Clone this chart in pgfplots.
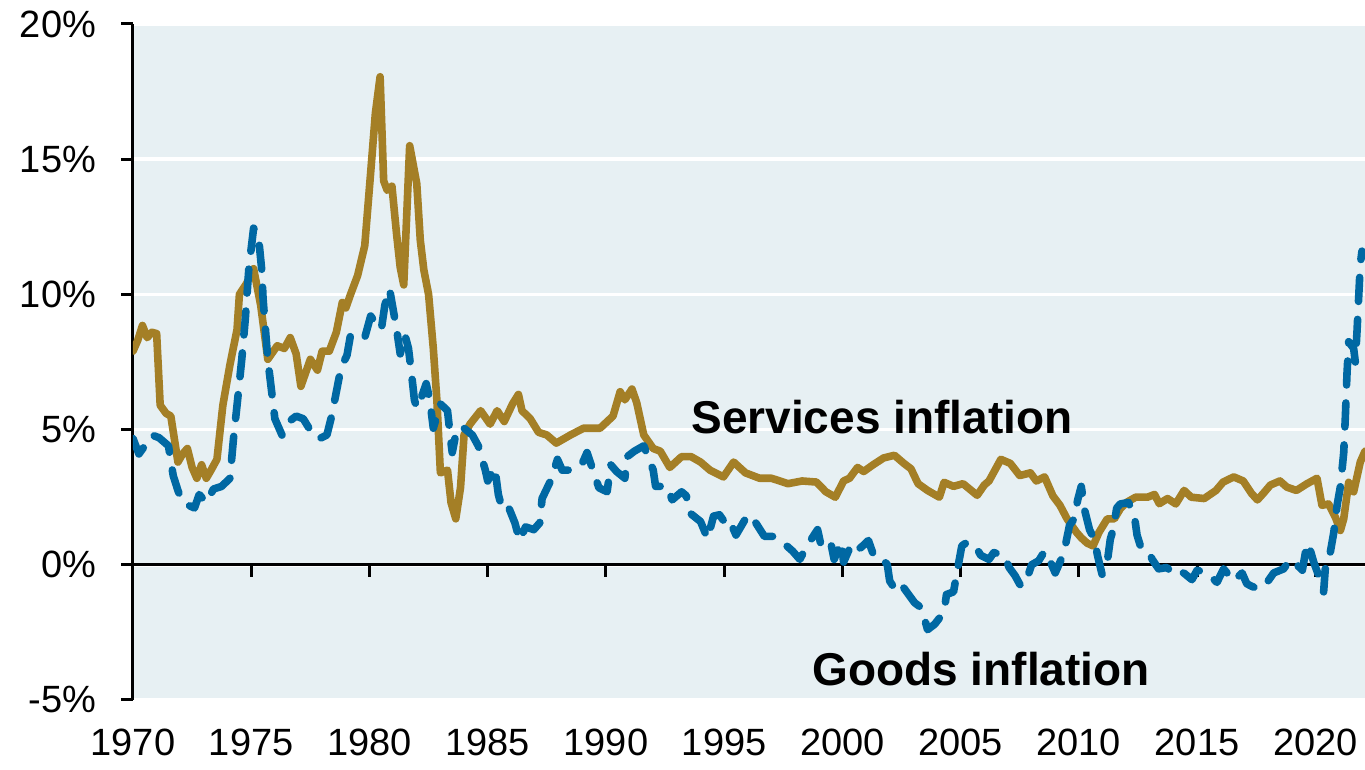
\documentclass[border=0pt]{standalone}
\usepackage{pgfplots}
\pgfplotsset{compat=1.18}
\usepackage{pgfplotstable}
\usepackage{fontspec}
\setmainfont{Liberation Sans}
\definecolor{bgc}{RGB}{231,240,243}
\definecolor{servc}{RGB}{164,127,38}
\definecolor{goodc}{RGB}{0,104,163}

\pgfplotstableread{
x y
1970.0 7.9
1970.2 8.3
1970.4 8.85
1970.6 8.4
1970.8 8.6
1971.0 8.55
1971.15 5.9
1971.4 5.6
1971.6 5.5
1971.9 3.8
1972.1 4.1
1972.3 4.3
1972.5 3.6
1972.7 3.2
1972.9 3.7
1973.1 3.2
1973.3 3.5
1973.55 3.9
1973.8 5.9
1974.1 7.4
1974.4 8.7
1974.5 10.0
1974.8 10.4
1975.1 10.95
1975.4 9.6
1975.7 7.6
1976.1 8.1
1976.4 8.0
1976.65 8.4
1976.9 7.8
1977.1 6.6
1977.5 7.6
1977.8 7.2
1978.0 7.9
1978.3 7.9
1978.6 8.6
1978.85 9.7
1979.0 9.5
1979.2 10.0
1979.5 10.7
1979.8 11.8
1980.05 14.5
1980.25 16.7
1980.45 18.05
1980.6 14.2
1980.75 13.85
1980.95 14.0
1981.15 12.2
1981.3 11.0
1981.45 10.35
1981.7 15.5
1982.0 14.1
1982.15 12.0
1982.3 10.9
1982.5 10.0
1982.7 8.0
1982.85 6.1
1983.0 3.4
1983.3 3.5
1983.45 2.3
1983.65 1.7
1983.85 2.85
1984.0 4.8
1984.25 5.2
1984.7 5.7
1985.1 5.2
1985.4 5.7
1985.7 5.3
1986.05 5.95
1986.3 6.3
1986.45 5.7
1986.8 5.4
1987.15 4.9
1987.5 4.8
1987.9 4.5
1988.5 4.8
1989.05 5.05
1989.75 5.05
1990.3 5.5
1990.6 6.4
1990.8 6.1
1991.1 6.5
1991.3 6.0
1991.6 4.8
1992.0 4.3
1992.3 4.2
1992.7 3.6
1993.2 4.0
1993.6 4.0
1994.0 3.8
1994.4 3.5
1994.97 3.25
1995.4 3.8
1995.9 3.4
1996.5 3.2
1997.0 3.2
1997.7 3.0
1998.3 3.1
1998.9 3.06
1999.3 2.7
1999.7 2.5
2000.05 3.1
2000.3 3.2
2000.64 3.6
2000.9 3.45
2001.3 3.7
2001.74 3.95
2002.2 4.05
2002.6 3.75
2002.9 3.55
2003.2 3.0
2003.6 2.75
2004.1 2.5
2004.3 3.05
2004.7 2.9
2005.1 3.0
2005.7 2.57
2006.0 2.95
2006.2 3.1
2006.7 3.9
2007.1 3.75
2007.5 3.3
2007.95 3.4
2008.2 3.1
2008.55 3.25
2008.9 2.55
2009.2 2.2
2009.5 1.7
2009.9 1.2
2010.1 1.0
2010.35 0.8
2010.6 0.7
2010.85 1.2
2011.2 1.7
2011.5 1.7
2011.75 2.07
2012.0 2.3
2012.4 2.5
2012.9 2.5
2013.2 2.6
2013.4 2.26
2013.75 2.45
2014.1 2.25
2014.45 2.75
2014.75 2.5
2015.3 2.45
2015.8 2.75
2016.1 3.06
2016.55 3.25
2016.95 3.1
2017.3 2.64
2017.55 2.4
2017.8 2.64
2018.1 2.95
2018.5 3.1
2018.8 2.87
2019.2 2.75
2019.65 3.0
2020.07 3.2
2020.28 2.2
2020.56 2.25
2020.85 1.75
2021.06 1.27
2021.2 1.7
2021.41 3.05
2021.62 2.7
2021.9 3.8
2022.1 4.2
}\services

\pgfplotstableread{
x y
1970.0 4.67
1970.25 4.1
1970.5 4.4
1970.8 4.8
1971.1 4.7
1971.5 4.4
1971.7 3.3
1971.9 2.75
1972.1 2.3
1972.6 2.1
1972.8 2.6
1973.1 2.3
1973.4 2.8
1973.75 2.9
1974.1 3.2
1974.25 4.67
1974.4 5.9
1974.6 7.6
1974.75 9.1
1974.9 10.97
1975.1 12.45
1975.3 12.2
1975.45 10.85
1975.5 9.85
1975.7 7.6
1975.85 6.5
1976.0 5.4
1976.3 4.8
1976.6 5.3
1976.9 5.5
1977.2 5.4
1977.55 4.9
1977.85 4.65
1978.2 4.8
1978.4 5.5
1978.6 6.4
1978.8 7.3
1979.05 7.75
1979.2 8.5
1979.5 8.5
1979.8 8.4
1980.05 9.2
1980.3 8.9
1980.5 8.7
1980.65 9.6
1980.85 10.2
1981.0 9.45
1981.15 8.7
1981.3 7.8
1981.5 8.5
1981.65 8.0
1981.8 6.9
1981.9 6.1
1982.0 5.8
1982.2 6.2
1982.4 6.7
1982.55 6.1
1982.7 5.05
1983.0 5.95
1983.3 5.7
1983.45 4.5
1983.5 4.15
1983.7 5.05
1984.0 5.05
1984.35 4.8
1984.6 4.4
1984.9 3.5
1985.0 3.1
1985.3 3.6
1985.45 2.6
1985.6 2.1
1985.85 2.2
1986.15 1.55
1986.35 0.9
1986.6 1.4
1986.95 1.3
1987.2 1.55
1987.3 2.45
1987.6 3.0
1987.7 3.2
1987.95 3.9
1988.15 3.5
1988.6 3.5
1989.0 3.75
1989.2 4.15
1989.45 3.5
1989.7 2.85
1990.05 2.7
1990.2 3.7
1990.45 3.45
1990.8 3.2
1990.9 4.0
1991.2 4.2
1991.6 4.4
1992.0 3.5
1992.1 2.9
1992.6 2.9
1992.8 2.4
1993.2 2.7
1993.4 2.55
1993.5 1.95
1994.0 1.6
1994.3 0.97
1994.55 1.8
1994.8 1.85
1995.0 1.6
1995.2 1.7
1995.5 1.1
1995.7 1.4
1996.0 1.85
1996.3 1.6
1996.7 1.05
1997.1 1.05
1997.45 0.85
1997.9 0.5
1998.2 0.2
1998.5 0.7
1998.95 1.3
1999.1 0.7
1999.5 0.85
1999.65 0.2
1999.95 0.85
2000.05 0.1
2000.35 0.7
2000.5 0.5
2000.8 0.65
2001.1 0.9
2001.3 0.4
2001.5 0.4
2001.9 0.0
2002.0 -0.6
2002.3 -1.0
2002.55 -0.8
2002.8 -1.1
2003.05 -1.4
2003.35 -1.6
2003.6 -2.4
2003.9 -2.2
2004.3 -1.75
2004.4 -1.1
2004.7 -1.0
2004.85 -0.25
2005.05 0.7
2005.3 0.85
2005.65 0.65
2005.85 0.35
2006.2 0.2
2006.4 0.45
2006.85 0.35
2007.05 -0.1
2007.3 -0.4
2007.55 -0.8
2007.85 -0.4
2008.0 0.0
2008.3 0.15
2008.55 0.5
2008.8 0.1
2009.0 -0.3
2009.3 0.3
2009.45 0.8
2009.6 1.45
2009.8 1.7
2009.95 2.4
2010.1 2.9
2010.25 2.0
2010.45 1.3
2010.65 0.95
2010.8 0.3
2010.98 -0.35
2011.2 0.1
2011.33 0.95
2011.45 1.3
2011.6 2.1
2011.75 2.25
2012.1 2.3
2012.35 1.8
2012.46 1.1
2012.6 0.7
2012.88 0.6
2013.1 0.2
2013.37 -0.15
2013.72 -0.1
2014.08 -0.4
2014.43 -0.3
2014.78 -0.55
2015.0 -0.2
2015.42 -0.3
2015.84 -0.65
2016.12 -0.15
2016.55 -0.6
2016.9 -0.3
2017.1 -0.7
2017.32 -0.8
2017.6 -0.9
2017.96 -0.65
2018.24 -0.3
2018.66 -0.15
2018.94 0.2
2019.22 0.0
2019.45 -0.2
2019.58 0.45
2019.7 0.8
2019.93 0.1
2020.14 -0.4
2020.35 -1.0
2020.42 -0.15
2020.56 0.0
2020.63 0.45
2020.78 1.2
2020.92 2.2
2021.06 2.9
2021.2 4.15
2021.27 5.5
2021.34 7.1
2021.41 8.25
2021.62 8.0
2021.69 7.5
2021.76 8.6
2021.83 9.85
2021.9 11.1
2021.97 11.6
}\goods

\begin{document}
\begin{tikzpicture}
\begin{axis}[
  scale only axis,
  width=616pt, height=338pt,
  xmin=1970, xmax=2022.1, ymin=-5, ymax=20,
  axis x line=middle, axis y line=left,
  axis line style={-, black, line width=1.5pt},
  axis background/.style={fill=bgc},
  ytick={-5,0,5,10,15,20},
  yticklabels={-5\%,0\%,5\%,10\%,15\%,20\%},
  xtick={1970,1975,1980,1985,1990,1995,2000,2005,2010,2015,2020},
  xticklabels={1970,1975,1980,1985,1990,1995,2000,2005,2010,2015,2020},
  tick align=outside,
  major tick length=6pt,
  tick style={black, line width=1.5pt},
  ymajorgrids,
  grid style={white, line width=1.8pt},
  hide obscured x ticks=false, hide obscured y ticks=false,
  ticklabel style={font=\fontsize{19}{22}\selectfont},
  xticklabel style={anchor=north, yshift=-72.5pt},
  yticklabel style={anchor=east, xshift=-9pt},
]
\addplot[servc, line width=3.8pt, line join=round, line cap=round] table[x=x, y=y] {\services};
\addplot[goodc, line width=3.8pt, line join=round, line cap=round, dash pattern=on 12pt off 9pt] table[x=x, y=y] {\goods};
\node[anchor=base west, inner sep=0pt, font=\bfseries\fontsize{23}{27}\selectfont] at (axis cs:1993.6,4.85) {Services inflation};
\node[anchor=base west, inner sep=0pt, font=\bfseries\fontsize{23}{27}\selectfont] at (axis cs:1998.72,-4.48) {Goods inflation};
\end{axis}
\pgfresetboundingbox
\path[use as bounding box] (-66.5pt,-35pt) rectangle (616pt,350pt);
\end{tikzpicture}
\end{document}
